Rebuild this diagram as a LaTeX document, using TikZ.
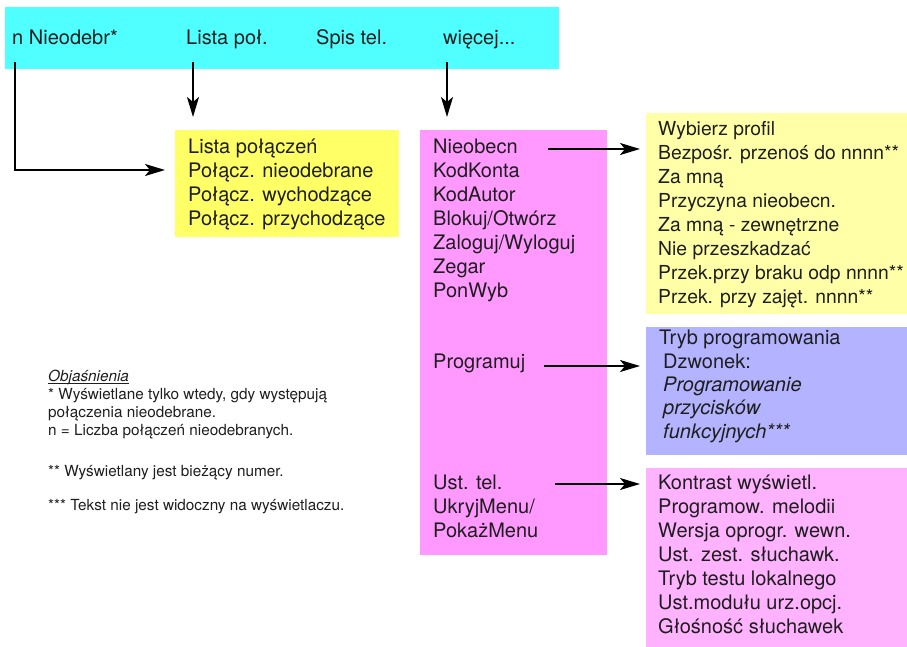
\documentclass[tikz,border=0pt]{standalone}
\usepackage{fontspec}
\setmainfont{TeX Gyre Heros}
\usepackage{tikz}
\usetikzlibrary{arrows.meta}
\definecolor{barcyan}{RGB}{80,255,255}
\definecolor{listyellow}{RGB}{255,255,102}
\definecolor{paleyellow}{RGB}{255,255,168}
\definecolor{menumagenta}{RGB}{255,153,255}
\definecolor{progblue}{RGB}{179,179,255}
\definecolor{setpink}{RGB}{255,179,255}
\definecolor{ink}{RGB}{30,30,30}
\newcommand{\ulword}[1]{\setbox0\hbox{#1}\rlap{\rule[-2.5pt]{\wd0}{0.6pt}}\box0}

\begin{document}
\begin{tikzpicture}[
  x=1pt, y=-1pt,
  box/.style={rectangle, anchor=north west, inner sep=0pt, outer sep=0pt},
  lines/.style={anchor=north west, align=left, inner sep=0pt, text=ink, font=\fontsize{20}{24}\selectfont},
  key/.style={anchor=base west, inner sep=0pt, text=ink, font=\fontsize{20}{24}\selectfont},
  legend/.style={anchor=north west, align=left, inner sep=0pt, text=ink, font=\fontsize{15.3}{18}\selectfont},
  arr/.style={line width=2pt, -{Stealth[length=20pt,width=12pt,inset=5pt]}}
  ]
  \useasboundingbox (0,0) rectangle (907,647);

  % coloured panels
  \node[box, fill=barcyan, minimum width=554pt, minimum height=62pt] (softkeys) at (5,7) {};
  \node[box, fill=listyellow, minimum width=224pt, minimum height=107pt] (calls) at (175,130) {};
  \node[box, fill=menumagenta, minimum width=187pt, minimum height=425pt] (more) at (420,130) {};
  \node[box, fill=paleyellow, minimum width=261pt, minimum height=201pt] (profile) at (646,113) {};
  \node[box, fill=progblue, minimum width=261pt, minimum height=128pt] (prog) at (646,327) {};
  \node[box, fill=setpink, minimum width=261pt, minimum height=179pt] (phone) at (646,468) {};

  % softkey labels
  \node[key] (missed) at (12,45) {n Nieodebr*};
  \node[key] (calllist) at (186,45) {Lista poł.};
  \node[key] (phonebook) at (316,45) {Spis tel.};
  \node[key] (morekey) at (443,45) {więcej...};

  % menu texts
  \node[lines] (callstext) at ([xshift=13pt,yshift=-6.2pt]calls.north west) {
        \strut Lista połączeń\\
        Połącz. nieodebrane\\
        Połącz. wychodzące\\
        Połącz. przychodzące};
  \node[lines] (absenttext) at ([xshift=13pt,yshift=-6.2pt]more.north west) {
        \strut Nieobecn\\
        KodKonta\\
        KodAutor\\
        Blokuj/Otwórz\\
        Zaloguj/Wyloguj\\
        Zegar\\
        PonWyb};
  \node[lines] (progtext) at ([xshift=13pt,yshift=-221.2pt]more.north west) {\strut Programuj};
  \node[lines] (settingstext) at ([xshift=13pt,yshift=-342.2pt]more.north west) {
        \strut Ust. tel.\\
        UkryjMenu/\\
        PokażMenu};
  \node[lines, font=\fontsize{19.3}{24}\selectfont] (profiletext) at ([xshift=12pt,yshift=-5.5pt]profile.north west) {
        \strut Wybierz profil\\
        Bezpośr. przenoś do nnnn**\\
        Za mną\\
        Przyczyna nieobecn.\\
        Za mną - zewnętrzne\\
        Nie przeszkadzać\\
        Przek.przy braku odp nnnn**\\
        Przek. przy zajęt. nnnn**};
  \node[lines, font=\fontsize{20}{23.4}\selectfont] (progboxtext) at ([xshift=13pt,yshift=-1.2pt]prog.north west) {
        \strut Tryb programowania\\
        \hspace*{4pt}Dzwonek:\\
        \hspace*{4pt}\textit{Programowanie}\\
        \hspace*{4pt}\textit{przycisków}\\
        \hspace*{4pt}\textit{funkcyjnych***}};
  \node[lines] (phonetext) at ([xshift=12pt,yshift=-4.2pt]phone.north west) {
        \strut Kontrast wyświetl.\\
        Programow. melodii\\
        Wersja oprogr. wewn.\\
        Ust. zest. słuchawk.\\
        Tryb testu lokalnego\\
        Ust.modułu urz.opcj.\\
        Głośność słuchawek};

  % legend
  \node[legend] (notes) at (48,368.4) {
        \strut\ulword{\textit{Objaśnienia}}\\
        * Wyświetlane tylko wtedy, gdy występują\\
        połączenia nieodebrane.\\
        n = Liczba połączeń nieodebranych.\\[23pt]
        ** Wyświetlany jest bieżący numer.\\[16pt]
        *** Tekst nie jest widoczny na wyświetlaczu.};

  % connectors
  \coordinate (missedout) at (15,62);
  \coordinate (calllistout) at (193,62);
  \coordinate (moreout) at (447,62);
  \coordinate (absentout) at (548,149);
  \coordinate (progout) at (544,366);
  \coordinate (settingsout) at (555,484);

  \draw[arr, shorten >=10pt] (missedout) |- ([yshift=13.5pt]calls.west);
  \draw[arr, shorten >=13pt] (calllistout) -- (calllistout |- calls.north);
  \draw[arr, shorten >=13pt] (moreout) -- (moreout |- more.north);
  \draw[arr, shorten >=6pt] (absentout) -- (absentout -| profile.west);
  \draw[arr, shorten >=6pt] (progout) -- (progout -| prog.west);
  \draw[arr, shorten >=6pt] (settingsout) -- (settingsout -| phone.west);

\end{tikzpicture}
\end{document}
